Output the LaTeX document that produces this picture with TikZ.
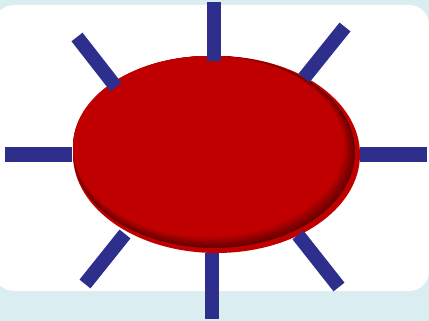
\documentclass[tikz,border=0pt]{standalone}
\usepackage{xcolor}
\definecolor{bgblue}{RGB}{218,237,240}
\definecolor{sunred}{RGB}{192,0,0}
\definecolor{sundark}{RGB}{105,0,0}
\definecolor{raycolor}{RGB}{46,46,140}

\begin{document}
\begin{tikzpicture}[
    x=1pt, y=-1pt,
    ray/.style={draw=raycolor, line width=14pt},
    panel/.style={fill=white, rounded corners=20pt},
  ]
    \useasboundingbox (0,0) rectangle (429,321);
    \fill[bgblue] (0,0) rectangle (429,321);
    \path[panel] (-6,5) rectangle (429,291);

    % sun body with dark rim at lower right
    \fill[sunred] (216.5,154.5) ellipse [x radius=143.5pt, y radius=98.5pt];
    \fill[sundark] (214,152) ellipse [x radius=141pt, y radius=96pt];
    \foreach \i in {1,...,8} {
      \pgfmathsetmacro\d{0.7*\i}
      \pgfmathsetmacro\m{12.5*\i}
      \fill[sunred!\m!sundark] (214-\d,152-\d) ellipse [x radius=141pt-\d pt, y radius=96pt-\d pt];
    }

    % rays
    \foreach \sx/\sy/\ex/\ey in {214/2/214/61, 212/253/212/319,
        5/154.5/72/154.5, 360/154.5/427/154.5,
        77/37/116/87, 345/27/304/78,
        125/234/85/284, 298/235/339/287}
      \draw[ray] (\sx,\sy) -- (\ex,\ey);
\end{tikzpicture}
\end{document}
